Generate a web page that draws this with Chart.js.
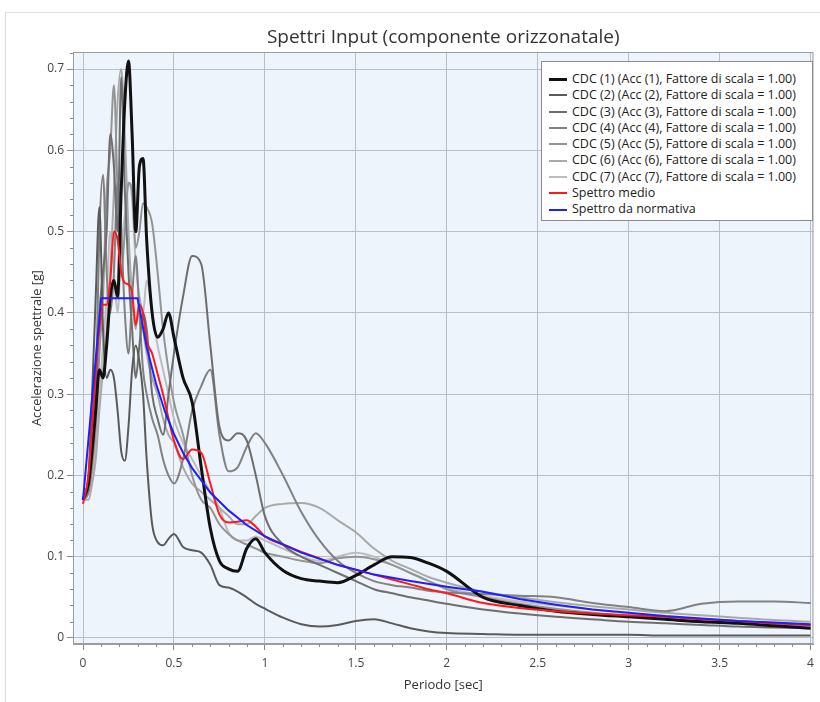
<!DOCTYPE html>
<html><head><meta charset="utf-8">
<script src="https://cdn.jsdelivr.net/npm/chart.js@4"></script>
<style>
html,body{margin:0;padding:0;background:#fff;}
#wrap{position:relative;width:820px;height:702px;}
#frame{position:absolute;left:5px;top:12px;width:814px;height:690px;border-left:1px solid #dedede;border-top:1px solid #dedede;pointer-events:none}
#legend{position:absolute;left:541px;top:61px;width:272px;height:160px;background:#fff;border:1px solid #8c8c8c;box-sizing:border-box;font-family:"Open Sans";font-size:12.5px;color:#222;padding-top:9px}
.item{height:16.3px;line-height:16.3px;display:flex;align-items:center;white-space:nowrap}
.sw{width:18px;margin-left:7px;margin-right:5px}
</style></head>
<body>
<div id="wrap">
<canvas id="c" width="820" height="702"></canvas>
<div id="frame"></div>
<div id="legend"></div>
</div>
<script>
const titleText = 'Spettri Input (componente orizzonatale)';
const xTitle = 'Periodo [sec]';
const yTitle = 'Accelerazione spettrale [g]';
const xTickValues = [0, 0.5, 1, 1.5, 2, 2.5, 3, 3.5, 4];
const xTickLabels = ['0', '0.5', '1', '1.5', '2', '2.5', '3', '3.5', '4'];
const yTickValues = [0, 0.1, 0.2, 0.3, 0.4, 0.5, 0.6, 0.7];
const yTickLabels = ['0', '0.1', '0.2', '0.3', '0.4', '0.5', '0.6', '0.7'];

const labels = [
  'CDC (1) (Acc (1), Fattore di scala = 1.00)',
  'CDC (2) (Acc (2), Fattore di scala = 1.00)',
  'CDC (3) (Acc (3), Fattore di scala = 1.00)',
  'CDC (4) (Acc (4), Fattore di scala = 1.00)',
  'CDC (5) (Acc (5), Fattore di scala = 1.00)',
  'CDC (6) (Acc (6), Fattore di scala = 1.00)',
  'CDC (7) (Acc (7), Fattore di scala = 1.00)',
  'Spettro medio',
  'Spettro da normativa'
];

// Periods (sec) shared by the records and the mean spectrum
const periods = [0, 0.03, 0.05, 0.07, 0.09, 0.11, 0.13, 0.15, 0.17, 0.19,
  0.21, 0.23, 0.25, 0.27, 0.29, 0.31, 0.33, 0.35, 0.38, 0.41,
  0.44, 0.47, 0.50, 0.55, 0.60, 0.65, 0.70, 0.75, 0.80, 0.85,
  0.90, 0.95, 1.0, 1.1, 1.2, 1.3, 1.4, 1.5, 1.6, 1.7,
  1.8, 1.9, 2.0, 2.2, 2.4, 2.6, 2.8, 3.0, 3.2, 3.4,
  3.6, 3.8, 4.0];

const cdc1 = [0.17,0.19,0.23,0.28,0.33,0.32,0.36,0.42,0.44,0.42, 0.55,0.66,0.71,0.62,0.50,0.58,0.59,0.49,0.40,0.37, 0.38,0.40,0.37,0.32,0.29,0.21,0.135,0.095,0.085,0.082, 0.11,0.122,0.105,0.083,0.073,0.07,0.068,0.077,0.09,0.10, 0.099,0.092,0.082,0.05,0.04,0.033,0.029,0.026,0.023,0.02, 0.018,0.015,0.012];
const cdc2 = [0.17,0.2,0.3,0.42,0.53,0.38,0.32,0.33,0.32,0.28, 0.23,0.218,0.26,0.33,0.36,0.34,0.30,0.22,0.14,0.118, 0.114,0.122,0.128,0.112,0.108,0.105,0.09,0.065,0.062,0.057, 0.05,0.042,0.036,0.025,0.017,0.014,0.016,0.021,0.023,0.018, 0.012,0.008,0.006,0.005,0.004,0.004,0.004,0.004,0.003,0.003, 0.003,0.003,0.003];
const cdc3 = [0.17,0.19,0.25,0.30,0.40,0.45,0.50,0.62,0.58,0.50, 0.69,0.55,0.45,0.38,0.32,0.36,0.40,0.38,0.30,0.27, 0.25,0.30,0.35,0.42,0.47,0.46,0.36,0.26,0.243,0.252, 0.243,0.20,0.15,0.115,0.10,0.09,0.08,0.07,0.06,0.055, 0.05,0.046,0.042,0.035,0.03,0.026,0.023,0.02,0.018,0.016, 0.014,0.013,0.012];
const cdc4 = [0.17,0.18,0.22,0.30,0.50,0.57,0.45,0.40,0.45,0.56, 0.50,0.40,0.35,0.42,0.47,0.40,0.33,0.30,0.27,0.25, 0.22,0.20,0.19,0.22,0.28,0.31,0.33,0.25,0.205,0.21, 0.235,0.252,0.24,0.20,0.155,0.12,0.095,0.08,0.07,0.065, 0.062,0.058,0.056,0.054,0.052,0.05,0.043,0.038,0.033,0.042, 0.045,0.045,0.043];
const cdc5 = [0.17,0.18,0.21,0.26,0.35,0.42,0.55,0.60,0.68,0.55, 0.45,0.50,0.56,0.55,0.48,0.50,0.535,0.53,0.51,0.45, 0.38,0.33,0.29,0.25,0.20,0.17,0.16,0.14,0.128,0.12, 0.115,0.11,0.105,0.10,0.095,0.092,0.098,0.10,0.097,0.09, 0.08,0.07,0.06,0.05,0.042,0.036,0.031,0.027,0.024,0.021, 0.019,0.017,0.015];
const cdc6 = [0.17,0.17,0.19,0.22,0.28,0.33,0.38,0.45,0.55,0.66, 0.70,0.62,0.50,0.42,0.38,0.42,0.38,0.35,0.32,0.30, 0.27,0.25,0.24,0.21,0.19,0.18,0.17,0.16,0.15,0.14, 0.14,0.15,0.16,0.165,0.166,0.16,0.145,0.13,0.11,0.095, 0.085,0.075,0.068,0.057,0.05,0.044,0.039,0.035,0.031,0.028, 0.025,0.022,0.02];
const cdc7 = [0.17,0.18,0.20,0.24,0.30,0.36,0.42,0.50,0.45,0.40, 0.48,0.52,0.56,0.54,0.46,0.42,0.40,0.44,0.40,0.36, 0.33,0.30,0.27,0.24,0.22,0.20,0.18,0.16,0.13,0.12, 0.12,0.125,0.12,0.11,0.10,0.095,0.10,0.105,0.10,0.09, 0.08,0.07,0.062,0.052,0.045,0.04,0.035,0.03,0.026,0.023, 0.02,0.018,0.016];
const medio = [0.165,0.2,0.26,0.33,0.38,0.41,0.41,0.44,0.50,0.49, 0.45,0.437,0.435,0.425,0.385,0.41,0.40,0.366,0.35,0.325, 0.30,0.27,0.243,0.22,0.232,0.228,0.19,0.152,0.142,0.143, 0.145,0.137,0.125,0.115,0.106,0.098,0.09,0.084,0.078,0.072, 0.066,0.06,0.055,0.043,0.037,0.033,0.03,0.028,0.026,0.023, 0.021,0.018,0.016];

// Code spectrum (own period grid)
const periodsNorm = [0, 0.1, 0.3, 0.35, 0.4, 0.45, 0.5, 0.55, 0.6, 0.7, 0.8, 0.9, 1.0, 1.2, 1.4, 1.6, 1.8, 2.0, 2.2, 2.4, 2.6, 2.8, 3.0, 3.2, 3.4, 3.6, 3.8, 4.0];
const normativa = [0.17, 0.418, 0.418, 0.358, 0.314, 0.279, 0.251, 0.228, 0.209, 0.179, 0.157, 0.139, 0.125, 0.105, 0.09, 0.078, 0.07, 0.063, 0.057, 0.048, 0.041, 0.035, 0.031, 0.027, 0.024, 0.021, 0.019, 0.017];

const colors = ['#111111', '#5a5a5a', '#6e6e6e', '#818181', '#949494', '#a9a9a9', '#bdbdbd', '#ff1a1a', '#1f1fff'];
const widths = [3, 2, 2, 2, 2, 2, 2, 2, 2];
const orders = [2, 3, 4, 5, 6, 7, 8, 1, 0];

const series = [cdc1, cdc2, cdc3, cdc4, cdc5, cdc6, cdc7, medio];
const toPts = (xs, ys) => xs.map((t, i) => ({x: t, y: ys[i]}));

const datasets = series.map((s, i) => ({
  label: labels[i], data: toPts(periods, s),
  borderColor: colors[i], borderWidth: widths[i], order: orders[i],
  cubicInterpolationMode: 'monotone', pointRadius: 0, fill: false
}));
datasets.push({
  label: labels[8], data: toPts(periodsNorm, normativa),
  borderColor: colors[8], borderWidth: widths[8], order: orders[8],
  tension: 0, pointRadius: 0, fill: false
});

const FONT = 'Open Sans';

const bgPlugin = {
  id: 'bg',
  beforeDraw(chart) {
    const {ctx, chartArea: a} = chart;
    ctx.save();
    ctx.fillStyle = '#eef4fc';
    ctx.fillRect(a.left, a.top, a.right - a.left, a.bottom - a.top);
    ctx.restore();
  },
  afterDraw(chart) {
    const {ctx, chartArea: a, scales} = chart;
    ctx.save();
    ctx.strokeStyle = '#9c9c9c';
    ctx.lineWidth = 1;
    ctx.strokeRect(a.left + 0.5, a.top + 0.5, a.right - a.left - 1, a.bottom - a.top - 1);
    ctx.strokeStyle = '#8a8a8a';
    ctx.beginPath();
    for (let k = 0; k <= 40; k++) {
      if (k % 5 === 0) continue;
      const px = Math.round(scales.x.getPixelForValue(k / 10)) + 0.5;
      ctx.moveTo(px, a.bottom); ctx.lineTo(px, a.bottom + 3);
    }
    for (let k = 0; k <= 36; k++) {
      if (k % 5 === 0) continue;
      const py = Math.round(scales.y.getPixelForValue(k / 50)) + 0.5;
      ctx.moveTo(a.left, py); ctx.lineTo(a.left - 3, py);
    }
    ctx.stroke();
    ctx.restore();
  }
};

new Chart(document.getElementById('c'), {
  type: 'line',
  data: {datasets},
  options: {
    responsive: false, animation: false, devicePixelRatio: 1,
    layout: {padding: {left: 0, right: 5, top: 0, bottom: 0}},
    plugins: {
      legend: {display: false},
      tooltip: {enabled: false},
      title: {display: true, text: titleText, fullSize: false, color: '#333',
        font: {family: FONT, size: 19, weight: 'normal'}, padding: {top: 26, bottom: 3.2}}
    },
    scales: {
      x: {
        type: 'linear', min: -0.055, max: 4.016,
        afterBuildTicks: s => { s.ticks = xTickValues.map(v => ({value: v})); },
        afterFit: s => { s.height = 58; },
        ticks: {callback: (v, i) => xTickLabels[i], color: '#444', font: {family: FONT, size: 12}, padding: 6, maxRotation: 0, autoSkip: false},
        grid: {color: '#b9bdc5', tickColor: '#8a8a8a', tickLength: 6},
        border: {color: '#9c9c9c'},
        title: {display: true, text: xTitle, color: '#333', font: {family: FONT, size: 13}, padding: {top: 0, bottom: 9}}
      },
      y: {
        type: 'linear', min: -0.0074, max: 0.721,
        afterBuildTicks: s => { s.ticks = yTickValues.map(v => ({value: v})); },
        afterFit: s => { s.width = 73; },
        ticks: {callback: (v, i) => yTickLabels[i], color: '#444', font: {family: FONT, size: 12}, padding: 3, autoSkip: false},
        grid: {color: '#b9bdc5', tickColor: '#8a8a8a', tickLength: 6},
        border: {color: '#9c9c9c'},
        title: {display: true, text: yTitle, color: '#333', font: {family: FONT, size: 12.7}, padding: {top: 30, bottom: 0}}
      }
    }
  },
  plugins: [bgPlugin]
});

// Legend built from the datasets
const lg = document.getElementById('legend');
labels.forEach((lab, i) => {
  const d = document.createElement('div'); d.className = 'item';
  const sw = document.createElement('span'); sw.className = 'sw';
  sw.style.borderTop = widths[i] + 'px solid ' + colors[i];
  const tx = document.createElement('span'); tx.textContent = lab;
  d.appendChild(sw); d.appendChild(tx); lg.appendChild(d);
});
</script>
</body></html>
